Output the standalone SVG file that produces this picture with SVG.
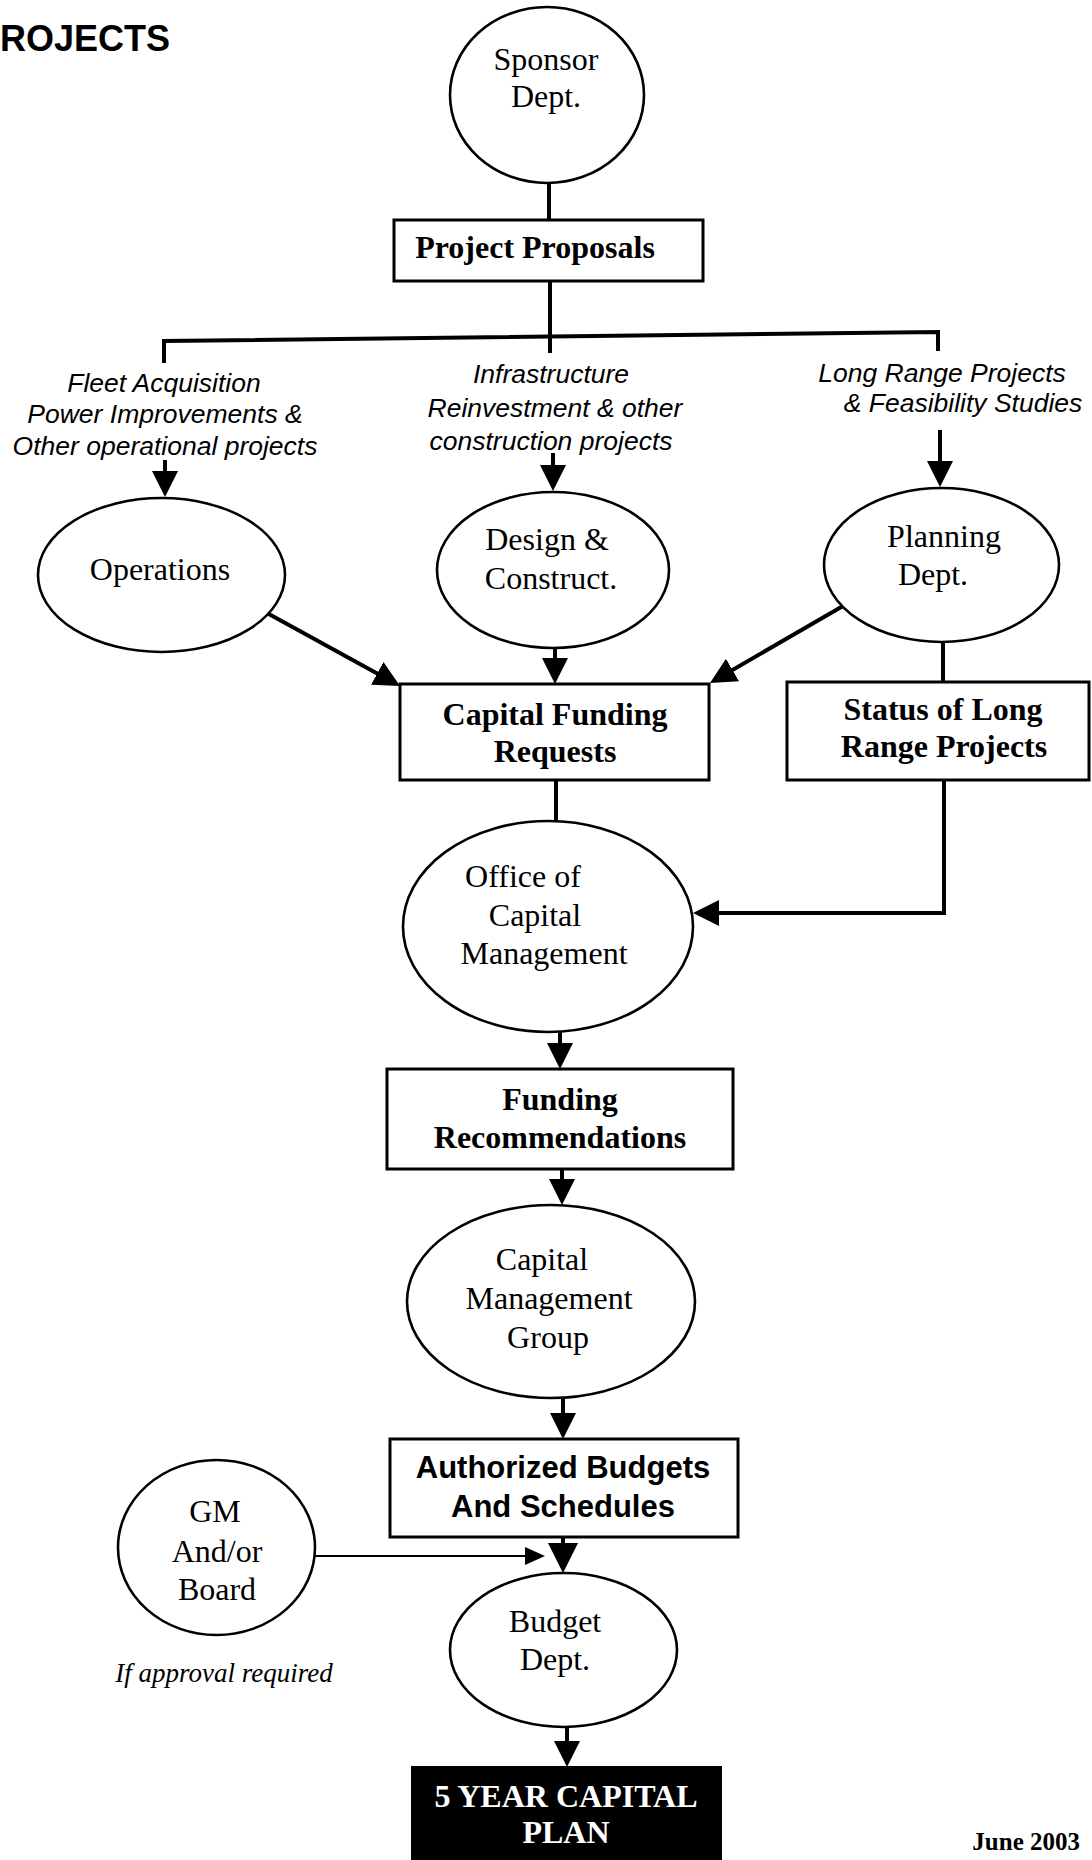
<svg xmlns="http://www.w3.org/2000/svg" width="1092" height="1860" viewBox="0 0 1092 1860">
  <style>
    .node { fill: #fff; stroke: #000; stroke-width: 2.6; }
    .box { fill: #fff; stroke: #000; stroke-width: 3; }
    .dark { fill: #000; stroke: #000; stroke-width: 2; }
    .conn { fill: none; stroke: #000; stroke-width: 4; }
    .thin { fill: none; stroke: #000; stroke-width: 2.2; }
    .t { font-family: "Liberation Serif", "Times New Roman", serif; font-size: 32px; fill: #000; text-anchor: middle; }
    .tb { font-family: "Liberation Serif", "Times New Roman", serif; font-size: 32px; font-weight: bold; fill: #000; text-anchor: middle; }
    .ab { font-family: "Liberation Sans", Arial, sans-serif; font-size: 31px; font-weight: bold; fill: #000; text-anchor: middle; }
    .lbl { font-family: "Liberation Sans", Arial, sans-serif; font-size: 26.5px; font-style: italic; fill: #000; text-anchor: middle; }
    .note { font-family: "Liberation Serif", "Times New Roman", serif; font-size: 27px; font-style: italic; fill: #000; text-anchor: middle; }
  </style>
  <defs>
    <marker id="arr" markerUnits="userSpaceOnUse" markerWidth="26" markerHeight="26" refX="14" refY="13" orient="auto">
      <path d="M0,0 L26,13 L0,26 Z" fill="#000"/>
    </marker>
    <marker id="arrBig" markerUnits="userSpaceOnUse" markerWidth="30" markerHeight="30" refX="16" refY="15" orient="auto">
      <path d="M0,0 L30,15 L0,30 Z" fill="#000"/>
    </marker>
    <marker id="arrSmall" markerUnits="userSpaceOnUse" markerWidth="20" markerHeight="18" refX="10" refY="9" orient="auto">
      <path d="M0,0 L20,9 L0,18 Z" fill="#000"/>
    </marker>
  </defs>

  <rect x="0" y="0" width="1092" height="1860" fill="#fff"/>

  <!-- page heading -->
  <text x="0" y="51" font-family="Liberation Sans, Arial, sans-serif" font-size="36" font-weight="bold" fill="#000">ROJECTS</text>

  <!-- connectors -->
  <g id="connectors">
    <line class="conn" x1="549" y1="183" x2="549" y2="220"/>
    <line class="conn" x1="550" y1="281" x2="550" y2="353"/>
    <path class="conn" d="M164,363 L164,341 L938,332 L938,351"/>
    <line class="conn" x1="165" y1="460" x2="165" y2="485" marker-end="url(#arr)"/>
    <line class="conn" x1="553" y1="453" x2="553" y2="479" marker-end="url(#arr)"/>
    <line class="conn" x1="940" y1="430" x2="940" y2="475" marker-end="url(#arr)"/>
    <line class="conn" x1="267" y1="613" x2="389.5" y2="680.2" marker-end="url(#arr)"/>
    <line class="conn" x1="555" y1="648" x2="555" y2="672" marker-end="url(#arr)"/>
    <line class="conn" x1="843" y1="606" x2="720.4" y2="677" marker-end="url(#arr)"/>
    <line class="conn" x1="943" y1="642" x2="943" y2="682"/>
    <line class="conn" x1="556" y1="780" x2="556" y2="821"/>
    <path class="conn" d="M944,780 L944,913 L705,913" marker-end="url(#arr)"/>
    <line class="conn" x1="560" y1="1032" x2="560" y2="1057" marker-end="url(#arr)"/>
    <line class="conn" x1="562" y1="1169" x2="562" y2="1193" marker-end="url(#arr)"/>
    <line class="conn" x1="563" y1="1398" x2="563" y2="1427" marker-end="url(#arr)"/>
    <line class="conn" x1="563" y1="1537" x2="563" y2="1559" marker-end="url(#arrBig)"/>
    <line class="thin" x1="315" y1="1556" x2="535" y2="1556" marker-end="url(#arrSmall)"/>
    <line class="conn" x1="567" y1="1727" x2="567" y2="1755" marker-end="url(#arr)"/>
  </g>

  <!-- branch labels -->
  <g id="label-operations">
    <text class="lbl" x="164" y="392">Fleet Acquisition</text>
    <text class="lbl" x="165" y="423">Power Improvements &amp;</text>
    <text class="lbl" x="165" y="455">Other operational projects</text>
  </g>
  <g id="label-construction">
    <text class="lbl" x="551" y="383">Infrastructure</text>
    <text class="lbl" x="555" y="417">Reinvestment &amp; other</text>
    <text class="lbl" x="551" y="450">construction projects</text>
  </g>
  <g id="label-planning">
    <text class="lbl" x="942" y="382">Long Range Projects</text>
    <text class="lbl" x="963" y="412">&amp; Feasibility Studies</text>
  </g>

  <!-- nodes -->
  <g id="sponsor-dept">
    <ellipse class="node" cx="547" cy="95" rx="97" ry="88"/>
    <text class="t" x="546" y="70">Sponsor</text>
    <text class="t" x="546" y="107">Dept.</text>
  </g>
  <g id="project-proposals">
    <rect class="box" x="394" y="220" width="309" height="61"/>
    <text class="tb" x="535" y="258">Project Proposals</text>
  </g>
  <g id="operations">
    <ellipse class="node" cx="161.5" cy="575" rx="123.5" ry="77"/>
    <text class="t" x="160" y="580">Operations</text>
  </g>
  <g id="design-construct">
    <ellipse class="node" cx="553" cy="570" rx="116" ry="78"/>
    <text class="t" x="547" y="550">Design &amp;</text>
    <text class="t" x="551" y="589">Construct.</text>
  </g>
  <g id="planning-dept">
    <ellipse class="node" cx="941.5" cy="565" rx="117.5" ry="77"/>
    <text class="t" x="944" y="547">Planning</text>
    <text class="t" x="933" y="585">Dept.</text>
  </g>
  <g id="capital-funding-requests">
    <rect class="box" x="400" y="684" width="309" height="96"/>
    <text class="tb" x="555" y="725">Capital Funding</text>
    <text class="tb" x="555" y="762">Requests</text>
  </g>
  <g id="status-long-range">
    <rect class="box" x="787" y="682" width="302" height="98"/>
    <text class="tb" x="943" y="720">Status of Long</text>
    <text class="tb" x="944" y="757">Range Projects</text>
  </g>
  <g id="office-capital-management">
    <ellipse class="node" cx="548" cy="926.5" rx="145" ry="105.5"/>
    <text class="t" x="523" y="887">Office of</text>
    <text class="t" x="535" y="926">Capital</text>
    <text class="t" x="544" y="964">Management</text>
  </g>
  <g id="funding-recommendations">
    <rect class="box" x="387" y="1069" width="346" height="100"/>
    <text class="tb" x="560" y="1110">Funding</text>
    <text class="tb" x="560" y="1148">Recommendations</text>
  </g>
  <g id="capital-management-group">
    <ellipse class="node" cx="551" cy="1301.5" rx="144" ry="96.5"/>
    <text class="t" x="542" y="1270">Capital</text>
    <text class="t" x="549" y="1309">Management</text>
    <text class="t" x="548" y="1348">Group</text>
  </g>
  <g id="authorized-budgets">
    <rect class="box" x="390" y="1439" width="348" height="98"/>
    <text class="ab" x="563" y="1478">Authorized Budgets</text>
    <text class="ab" x="563" y="1517">And Schedules</text>
  </g>
  <g id="gm-board">
    <ellipse class="node" cx="216.5" cy="1547.5" rx="98.5" ry="87.5"/>
    <text class="t" x="215" y="1522">GM</text>
    <text class="t" x="217" y="1562">And/or</text>
    <text class="t" x="217" y="1600">Board</text>
  </g>
  <text class="note" x="224" y="1682">If approval required</text>
  <g id="budget-dept">
    <ellipse class="node" cx="563.5" cy="1650" rx="113.5" ry="77"/>
    <text class="t" x="555" y="1632">Budget</text>
    <text class="t" x="555" y="1670">Dept.</text>
  </g>
  <g id="five-year-plan">
    <rect class="dark" x="412" y="1767" width="309" height="100"/>
    <text class="tb" x="566" y="1807" style="fill:#fff">5 YEAR CAPITAL</text>
    <text class="tb" x="566" y="1843" style="fill:#fff">PLAN</text>
  </g>

  <text x="1080" y="1850" font-family="Liberation Serif, Times New Roman, serif" font-size="25" font-weight="bold" text-anchor="end" fill="#000">June 2003</text>
</svg>
